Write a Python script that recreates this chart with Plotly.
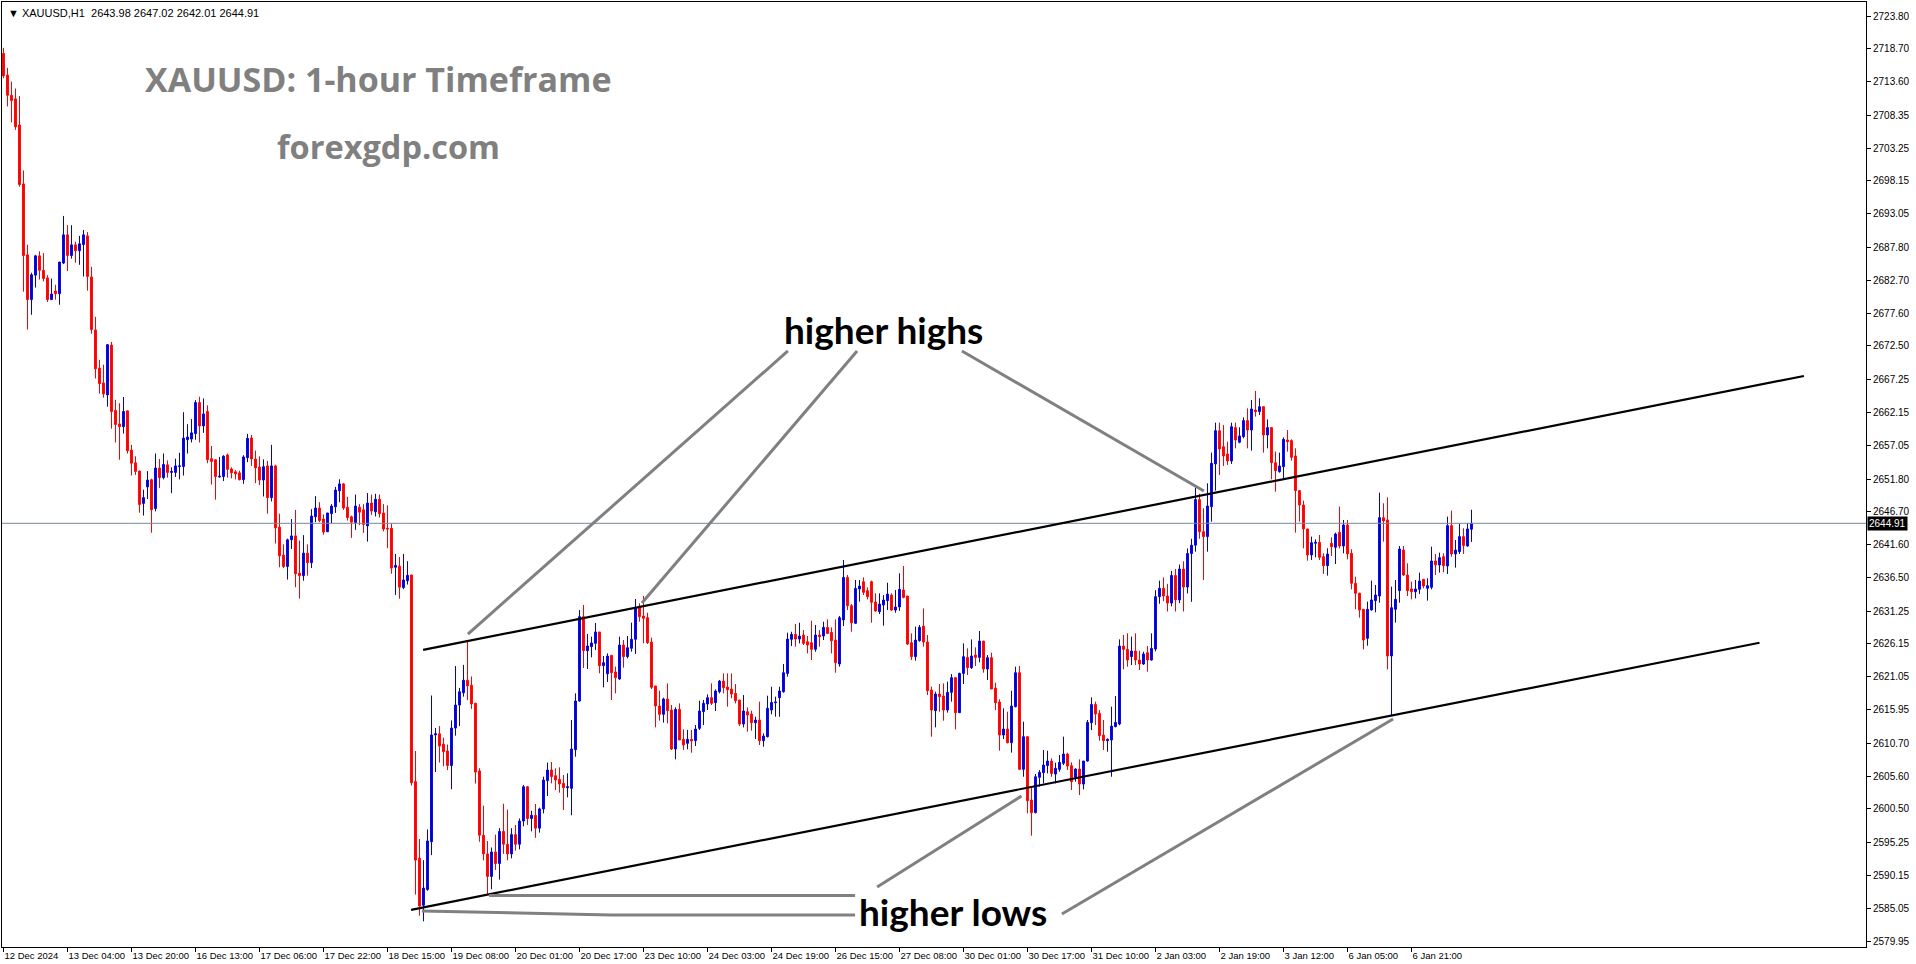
import plotly.graph_objects as go

# ---------------- data ----------------
open_ = [
    2717.99, 2714.61, 2711.46, 2710.92, 2706.85, 2697.69, 2686.66, 2679.70, 2683.50, 2686.50,
    2684.25, 2683.07, 2679.70, 2681.04, 2680.61, 2685.38, 2689.77, 2686.55, 2688.21, 2687.30,
    2688.27, 2689.61, 2683.23, 2674.99, 2669.05, 2666.74, 2664.87, 2672.63, 2662.46, 2660.37,
    2659.94, 2662.40, 2656.30, 2654.32, 2653.03, 2648.00, 2650.57, 2651.69, 2647.20, 2653.51,
    2652.01, 2654.00, 2652.82, 2652.82, 2653.73, 2653.73, 2657.91, 2658.01, 2658.87, 2663.69,
    2660.05, 2662.30, 2654.96, 2654.80, 2652.12, 2652.18, 2655.55, 2653.36, 2652.92, 2652.76,
    2651.69, 2655.12, 2658.19, 2654.91, 2653.66, 2651.64, 2653.84, 2648.90, 2653.84, 2644.32,
    2639.97, 2638.19, 2642.35, 2642.95, 2637.17, 2636.76, 2640.27, 2638.78, 2645.92, 2647.29,
    2645.57, 2643.60, 2646.40, 2647.47, 2649.97, 2651.04, 2647.41, 2645.92, 2645.03, 2647.41,
    2647.00, 2644.50, 2648.07, 2646.70, 2648.66, 2646.52, 2644.14, 2644.14, 2638.07, 2638.25,
    2634.91, 2635.98, 2636.88, 2604.74, 2592.83, 2585.51, 2587.95, 2595.39, 2612.00, 2612.18,
    2610.57, 2609.50, 2607.24, 2613.07, 2616.64, 2618.54, 2620.51, 2619.73, 2616.94, 2606.40,
    2596.40, 2593.50, 2590.00, 2593.80, 2592.00, 2597.00, 2595.00, 2593.50, 2596.50, 2595.00,
    2598.60, 2603.95, 2599.00, 2599.50, 2597.50, 2600.48, 2604.89, 2606.54, 2605.66, 2605.09,
    2604.47, 2603.80, 2603.69, 2609.71, 2617.28, 2630.39, 2625.10, 2625.73, 2626.24, 2628.01,
    2622.77, 2621.50, 2624.38, 2621.79, 2620.70, 2625.98, 2624.17, 2625.47, 2626.87, 2631.84,
    2630.49, 2630.24, 2626.45, 2619.61, 2616.50, 2615.20, 2617.59, 2615.88, 2609.81, 2615.98,
    2611.31, 2610.69, 2611.31, 2611.11, 2613.02, 2615.62, 2616.81, 2617.79, 2617.02, 2618.72,
    2620.38, 2619.45, 2619.14, 2618.46, 2617.43, 2613.69, 2615.61, 2615.25, 2613.90, 2614.32,
    2611.10, 2611.72, 2615.87, 2617.01, 2617.79, 2618.72, 2621.57, 2626.86, 2627.64, 2626.91,
    2627.54, 2626.50, 2626.34, 2625.31, 2627.54, 2627.38, 2628.73, 2627.95, 2626.76, 2623.03,
    2629.87, 2636.50, 2632.10, 2629.35, 2634.69, 2635.83, 2634.43, 2635.83, 2632.67, 2631.16,
    2632.20, 2632.88, 2633.76, 2631.42, 2631.90, 2634.53, 2633.60, 2626.34, 2624.17, 2626.65,
    2628.94, 2626.45, 2618.98, 2615.77, 2618.36, 2618.05, 2615.87, 2618.62, 2620.90, 2615.46,
    2621.57, 2624.06, 2622.46, 2624.43, 2624.06, 2626.60, 2622.25, 2624.01, 2619.29, 2617.12,
    2611.98, 2612.92, 2610.79, 2616.39, 2621.68, 2606.65, 2611.73, 2601.88, 2599.91, 2605.40,
    2606.13, 2607.22, 2607.94, 2605.92, 2606.65, 2607.58, 2609.03, 2607.22, 2605.40, 2606.70,
    2604.36, 2607.94, 2613.90, 2616.75, 2615.35, 2611.98, 2611.10, 2611.21, 2613.28, 2613.70,
    2625.83, 2625.31, 2624.17, 2625.05, 2623.65, 2623.03, 2624.79, 2623.65, 2625.36, 2633.50,
    2634.80, 2633.60, 2632.50, 2636.80, 2633.00, 2637.80, 2635.00, 2640.20, 2641.50, 2648.60,
    2643.61, 2642.84, 2647.50, 2654.14, 2659.32, 2656.83, 2655.69, 2654.60, 2659.79, 2657.51,
    2658.39, 2660.88, 2659.42, 2662.53, 2662.28, 2663.05, 2658.65, 2659.79, 2654.34, 2652.94,
    2653.72, 2657.87, 2657.77, 2655.38, 2649.99, 2647.76, 2644.03, 2639.98, 2641.80, 2641.95,
    2639.72, 2638.32, 2641.80, 2641.18, 2643.51, 2641.38, 2644.65, 2640.24, 2635.58, 2634.02,
    2631.53, 2627.02, 2631.43, 2632.88, 2633.61, 2645.79, 2645.43, 2624.28, 2631.53, 2634.44,
    2640.76, 2636.87, 2634.70, 2634.28, 2634.64, 2636.20, 2634.80, 2634.96, 2639.05, 2638.43,
    2639.72, 2638.27, 2644.55, 2640.14, 2640.50, 2642.84, 2641.38, 2643.98,
]

high = [
    2718.85, 2715.74, 2713.60, 2712.53, 2711.35, 2699.78, 2688.21, 2683.88, 2686.66, 2687.20,
    2686.93, 2683.50, 2682.97, 2682.00, 2685.54, 2692.71, 2691.27, 2691.27, 2688.70, 2689.61,
    2690.52, 2690.20, 2684.79, 2677.02, 2670.33, 2669.58, 2672.79, 2673.11, 2664.12, 2663.58,
    2664.55, 2662.40, 2657.10, 2655.33, 2653.09, 2650.14, 2653.03, 2651.85, 2655.76, 2654.91,
    2655.76, 2654.69, 2653.62, 2654.96, 2655.87, 2662.19, 2660.32, 2661.12, 2664.06, 2664.60,
    2664.33, 2663.26, 2656.94, 2654.80, 2655.23, 2655.50, 2655.76, 2653.62, 2653.19, 2653.09,
    2655.50, 2658.82, 2658.66, 2656.22, 2655.33, 2654.85, 2654.61, 2657.11, 2654.02, 2646.40,
    2641.64, 2642.53, 2645.57, 2647.00, 2642.23, 2643.07, 2641.64, 2647.11, 2649.14, 2648.19,
    2646.28, 2646.52, 2647.89, 2650.57, 2651.76, 2651.16, 2649.02, 2646.10, 2649.38, 2647.89,
    2647.89, 2649.61, 2649.38, 2649.50, 2649.38, 2647.89, 2647.71, 2644.91, 2640.15, 2639.67,
    2640.15, 2639.02, 2636.88, 2609.50, 2595.81, 2592.53, 2597.30, 2618.13, 2613.07, 2613.37,
    2611.58, 2610.51, 2614.26, 2622.71, 2619.32, 2622.89, 2626.46, 2621.10, 2616.94, 2606.82,
    2601.00, 2595.50, 2594.50, 2596.50, 2597.50, 2601.30, 2600.40, 2597.50, 2598.00, 2599.00,
    2604.20, 2604.05, 2600.20, 2601.26, 2600.69, 2605.51, 2607.69, 2607.79, 2606.80, 2606.96,
    2605.77, 2606.03, 2614.32, 2618.47, 2631.43, 2632.21, 2627.70, 2627.28, 2629.41, 2628.01,
    2624.27, 2624.69, 2624.38, 2622.62, 2627.28, 2626.76, 2627.38, 2629.46, 2633.14, 2632.46,
    2633.61, 2631.01, 2627.13, 2619.61, 2618.88, 2617.79, 2620.02, 2616.65, 2616.29, 2616.91,
    2612.87, 2612.77, 2612.77, 2613.54, 2617.33, 2617.43, 2618.31, 2620.02, 2619.09, 2620.54,
    2621.57, 2621.57, 2621.57, 2619.92, 2617.43, 2618.20, 2616.29, 2615.77, 2614.83, 2617.17,
    2612.24, 2618.10, 2619.50, 2617.95, 2619.50, 2623.03, 2627.90, 2628.05, 2629.25, 2629.45,
    2628.31, 2627.38, 2629.76, 2629.09, 2628.31, 2629.61, 2629.97, 2628.73, 2629.97, 2630.49,
    2639.20, 2636.87, 2632.36, 2636.09, 2636.09, 2636.50, 2634.95, 2635.99, 2634.02, 2634.02,
    2633.76, 2635.67, 2634.02, 2634.53, 2637.13, 2638.27, 2633.60, 2627.79, 2628.83, 2629.09,
    2631.68, 2627.54, 2619.50, 2618.72, 2619.92, 2620.02, 2620.28, 2621.47, 2620.90, 2621.68,
    2626.24, 2625.46, 2626.86, 2625.62, 2628.16, 2626.60, 2624.43, 2624.79, 2620.12, 2617.53,
    2616.13, 2615.61, 2618.88, 2622.61, 2622.72, 2614.06, 2611.73, 2603.85, 2605.92, 2606.54,
    2609.65, 2609.55, 2608.36, 2607.68, 2608.87, 2611.73, 2609.23, 2607.73, 2606.80, 2608.20,
    2607.94, 2614.32, 2617.84, 2617.17, 2615.87, 2614.32, 2611.47, 2616.39, 2618.05, 2626.86,
    2627.54, 2627.80, 2627.28, 2627.80, 2625.10, 2624.94, 2625.83, 2627.80, 2634.50, 2636.00,
    2636.50, 2635.50, 2637.50, 2637.80, 2638.50, 2639.00, 2641.00, 2642.50, 2650.50, 2649.50,
    2647.24, 2651.13, 2655.90, 2660.56, 2660.56, 2660.20, 2657.61, 2660.56, 2660.56, 2659.84,
    2661.39, 2662.79, 2664.09, 2665.49, 2664.35, 2663.05, 2661.08, 2659.79, 2656.05, 2655.90,
    2658.28, 2659.42, 2657.97, 2656.57, 2650.09, 2648.43, 2644.03, 2642.84, 2642.42, 2643.09,
    2640.24, 2641.02, 2642.73, 2643.46, 2647.50, 2645.43, 2645.43, 2640.87, 2636.61, 2634.13,
    2631.53, 2632.73, 2635.99, 2635.32, 2649.68, 2648.02, 2648.95, 2635.06, 2636.10, 2641.38,
    2641.38, 2638.69, 2635.84, 2636.10, 2637.24, 2636.20, 2636.36, 2641.28, 2640.14, 2640.35,
    2640.24, 2645.95, 2646.88, 2642.32, 2644.91, 2644.13, 2644.91, 2647.02,
]

low = [
    2714.13, 2709.74, 2707.28, 2706.10, 2697.26, 2680.93, 2675.04, 2677.34, 2681.57, 2682.81,
    2682.54, 2679.33, 2679.70, 2679.70, 2678.90, 2685.22, 2684.14, 2686.07, 2685.43, 2685.11,
    2683.29, 2681.09, 2674.40, 2667.44, 2665.08, 2664.44, 2663.05, 2659.62, 2657.48, 2654.80,
    2658.87, 2655.76, 2652.34, 2652.44, 2646.55, 2646.12, 2648.69, 2643.45, 2646.77, 2650.41,
    2651.74, 2652.01, 2649.60, 2652.12, 2651.74, 2652.34, 2655.76, 2657.48, 2657.91, 2657.48,
    2658.98, 2654.26, 2650.94, 2648.59, 2652.01, 2651.48, 2652.01, 2651.90, 2651.74, 2651.59,
    2651.05, 2654.42, 2653.84, 2651.16, 2650.86, 2649.08, 2646.40, 2648.31, 2641.76, 2638.07,
    2637.95, 2636.16, 2640.92, 2634.97, 2633.19, 2635.98, 2636.76, 2637.95, 2645.09, 2645.09,
    2643.13, 2643.54, 2644.91, 2646.52, 2648.19, 2647.00, 2645.33, 2642.65, 2643.90, 2644.61,
    2643.42, 2642.06, 2646.22, 2645.98, 2645.81, 2643.66, 2641.04, 2637.06, 2633.78, 2633.19,
    2634.67, 2635.39, 2604.14, 2587.18, 2583.90, 2583.01, 2587.77, 2593.31, 2606.22, 2607.71,
    2607.12, 2606.52, 2603.55, 2611.88, 2613.37, 2617.95, 2617.41, 2616.05, 2604.44, 2595.39,
    2592.50, 2587.20, 2588.00, 2591.00, 2589.50, 2593.50, 2592.50, 2592.80, 2594.00, 2594.20,
    2597.80, 2598.00, 2597.00, 2596.00, 2596.80, 2599.80, 2602.50, 2604.47, 2603.43, 2603.02,
    2600.32, 2602.29, 2599.50, 2608.62, 2617.17, 2622.41, 2622.25, 2624.07, 2625.21, 2621.58,
    2619.40, 2620.23, 2617.43, 2618.47, 2620.54, 2622.46, 2623.91, 2624.95, 2624.59, 2629.61,
    2626.24, 2626.14, 2619.14, 2613.18, 2614.22, 2613.91, 2613.80, 2609.66, 2608.20, 2611.21,
    2609.66, 2609.76, 2609.24, 2610.28, 2612.77, 2613.54, 2615.88, 2616.65, 2615.72, 2618.46,
    2618.46, 2616.39, 2617.69, 2616.91, 2613.38, 2613.18, 2612.50, 2612.66, 2611.36, 2610.43,
    2610.17, 2611.61, 2615.20, 2614.83, 2614.83, 2618.57, 2621.06, 2625.82, 2625.72, 2626.24,
    2625.98, 2624.68, 2623.65, 2624.94, 2625.72, 2626.76, 2627.69, 2624.68, 2621.68, 2622.61,
    2628.94, 2631.42, 2628.05, 2629.35, 2632.72, 2633.76, 2633.08, 2629.45, 2631.16, 2630.80,
    2628.99, 2631.42, 2631.32, 2631.00, 2631.30, 2633.24, 2625.98, 2623.65, 2623.54, 2626.50,
    2625.72, 2618.20, 2611.72, 2613.18, 2615.61, 2614.21, 2615.46, 2617.17, 2612.86, 2615.40,
    2619.92, 2621.32, 2622.25, 2622.72, 2623.29, 2621.68, 2620.54, 2619.14, 2615.87, 2609.55,
    2611.36, 2610.69, 2609.24, 2616.29, 2606.54, 2605.50, 2599.80, 2596.33, 2599.80, 2603.95,
    2604.47, 2606.02, 2605.50, 2604.47, 2606.28, 2607.32, 2606.54, 2603.43, 2604.73, 2602.65,
    2603.53, 2607.84, 2612.76, 2613.54, 2611.10, 2609.65, 2609.39, 2605.50, 2613.20, 2613.50,
    2622.20, 2622.61, 2622.87, 2622.87, 2622.09, 2622.90, 2621.83, 2623.55, 2625.00, 2632.40,
    2632.80, 2631.20, 2632.00, 2631.20, 2632.50, 2631.20, 2634.00, 2632.70, 2640.50, 2642.50,
    2636.10, 2640.50, 2645.17, 2649.99, 2652.43, 2653.83, 2653.98, 2654.14, 2656.57, 2657.35,
    2658.13, 2656.57, 2656.21, 2661.50, 2661.76, 2655.90, 2656.57, 2651.75, 2649.83, 2652.79,
    2651.91, 2656.05, 2654.65, 2643.46, 2645.17, 2641.02, 2639.10, 2639.21, 2639.62, 2639.21,
    2637.03, 2636.77, 2639.83, 2638.58, 2641.02, 2640.24, 2639.31, 2634.64, 2631.53, 2630.24,
    2625.31, 2625.88, 2631.33, 2631.07, 2632.57, 2642.06, 2622.20, 2615.10, 2629.46, 2632.57,
    2636.72, 2633.61, 2633.09, 2633.24, 2633.92, 2634.80, 2632.88, 2634.64, 2636.87, 2637.24,
    2637.29, 2637.03, 2639.72, 2638.01, 2640.14, 2640.14, 2641.28, 2642.01,
]

close = [
    2714.51, 2711.46, 2710.65, 2706.58, 2697.59, 2686.55, 2679.70, 2683.56, 2686.50, 2684.25,
    2682.97, 2679.70, 2680.56, 2680.61, 2685.54, 2689.77, 2686.55, 2688.21, 2687.30, 2688.38,
    2689.77, 2683.29, 2675.04, 2668.94, 2666.63, 2665.03, 2672.69, 2662.30, 2660.26, 2659.94,
    2662.30, 2656.19, 2654.26, 2652.98, 2647.84, 2648.91, 2651.64, 2647.03, 2653.51, 2652.01,
    2654.05, 2652.82, 2652.98, 2653.84, 2653.84, 2658.17, 2658.33, 2658.98, 2663.69, 2660.05,
    2661.92, 2654.80, 2654.53, 2652.18, 2652.23, 2655.34, 2653.30, 2652.76, 2652.60, 2651.69,
    2655.23, 2658.12, 2654.91, 2653.54, 2651.64, 2653.72, 2648.90, 2653.84, 2644.20, 2639.85,
    2638.19, 2642.35, 2642.95, 2637.06, 2636.76, 2640.27, 2638.78, 2646.04, 2647.29, 2645.33,
    2643.54, 2646.52, 2647.59, 2650.09, 2651.04, 2647.29, 2645.81, 2645.09, 2647.59, 2646.64,
    2644.73, 2648.07, 2646.82, 2648.66, 2646.40, 2644.02, 2644.02, 2637.95, 2638.37, 2634.97,
    2636.10, 2636.82, 2604.56, 2592.53, 2585.39, 2588.19, 2595.51, 2612.00, 2612.18, 2610.27,
    2609.38, 2607.24, 2613.07, 2616.64, 2618.72, 2620.51, 2619.62, 2616.82, 2606.22, 2596.40,
    2593.50, 2590.00, 2593.80, 2592.00, 2597.00, 2595.00, 2593.50, 2596.50, 2595.00, 2598.60,
    2603.95, 2599.00, 2599.50, 2597.50, 2600.50, 2604.99, 2606.54, 2605.51, 2604.99, 2604.37,
    2603.80, 2603.95, 2609.81, 2617.28, 2630.39, 2625.10, 2625.83, 2626.30, 2628.01, 2622.77,
    2623.24, 2624.27, 2621.68, 2620.90, 2625.98, 2624.17, 2625.57, 2626.87, 2631.84, 2630.39,
    2630.13, 2626.35, 2619.40, 2616.50, 2615.20, 2617.59, 2615.77, 2609.81, 2615.98, 2611.21,
    2610.43, 2611.31, 2611.05, 2612.92, 2615.72, 2616.91, 2617.79, 2616.91, 2618.83, 2620.38,
    2619.34, 2619.03, 2618.36, 2617.32, 2613.69, 2615.72, 2615.09, 2613.90, 2614.32, 2611.10,
    2611.83, 2616.13, 2617.06, 2617.12, 2618.83, 2621.68, 2626.91, 2627.64, 2626.91, 2627.38,
    2626.24, 2625.98, 2625.31, 2627.54, 2627.28, 2628.73, 2627.79, 2626.65, 2623.23, 2630.23,
    2636.50, 2632.10, 2629.45, 2634.79, 2635.16, 2634.17, 2633.50, 2632.62, 2631.27, 2632.36,
    2632.98, 2633.91, 2631.42, 2631.90, 2634.64, 2633.39, 2626.14, 2624.17, 2626.76, 2628.73,
    2626.45, 2618.88, 2615.87, 2618.36, 2617.95, 2615.87, 2618.62, 2620.90, 2615.46, 2621.57,
    2624.17, 2622.46, 2624.27, 2624.06, 2626.60, 2622.25, 2624.01, 2619.14, 2617.01, 2611.98,
    2612.92, 2610.79, 2616.49, 2621.68, 2606.65, 2611.73, 2601.77, 2599.91, 2605.50, 2606.18,
    2607.32, 2607.94, 2606.02, 2606.80, 2607.73, 2609.03, 2607.16, 2604.73, 2606.70, 2604.36,
    2607.94, 2613.95, 2616.75, 2615.25, 2611.88, 2611.10, 2611.31, 2613.38, 2613.95, 2625.83,
    2625.31, 2623.65, 2625.05, 2623.65, 2623.03, 2624.58, 2623.65, 2625.46, 2633.50, 2634.80,
    2633.60, 2632.50, 2636.80, 2633.00, 2637.80, 2635.00, 2640.20, 2641.50, 2648.60, 2643.60,
    2642.84, 2647.60, 2654.24, 2659.32, 2656.47, 2655.38, 2654.60, 2659.94, 2657.87, 2658.49,
    2660.88, 2659.42, 2662.69, 2662.28, 2663.05, 2658.65, 2659.79, 2654.34, 2653.10, 2653.83,
    2657.97, 2657.61, 2655.17, 2649.99, 2647.76, 2644.03, 2639.98, 2641.90, 2641.95, 2639.62,
    2638.32, 2640.14, 2641.28, 2643.25, 2641.38, 2644.65, 2640.14, 2635.58, 2634.02, 2631.43,
    2626.76, 2631.53, 2632.99, 2633.76, 2645.79, 2645.27, 2624.28, 2631.79, 2633.09, 2640.92,
    2636.87, 2634.44, 2634.28, 2634.70, 2635.94, 2635.16, 2635.21, 2639.05, 2638.43, 2639.57,
    2638.32, 2644.55, 2640.14, 2640.76, 2642.84, 2641.44, 2644.03, 2644.91,
]

bar_index = list(range(len(close)))

time_tick_bars = list(range(0, 353, 16))
time_tick_text = [
    "12 Dec 2024", "13 Dec 04:00", "13 Dec 20:00", "16 Dec 13:00", "17 Dec 06:00",
    "17 Dec 22:00", "18 Dec 15:00", "19 Dec 08:00", "20 Dec 01:00", "20 Dec 17:00",
    "23 Dec 10:00", "24 Dec 03:00", "24 Dec 19:00", "26 Dec 15:00", "27 Dec 08:00",
    "30 Dec 01:00", "30 Dec 17:00", "31 Dec 10:00", "2 Jan 03:00", "2 Jan 19:00",
    "3 Jan 12:00", "6 Jan 05:00", "6 Jan 21:00",
]

price_ticks = [
    2723.80, 2718.70, 2713.60, 2708.35, 2703.25, 2698.15, 2693.05, 2687.80, 2682.70,
    2677.60, 2672.50, 2667.25, 2662.15, 2657.05, 2651.80, 2646.70, 2641.60, 2636.50,
    2631.25, 2626.15, 2621.05, 2615.95, 2610.70, 2605.60, 2600.50, 2595.25, 2590.15,
    2585.05, 2579.95,
]

last_price = 2644.91
header_text = "\u25bc XAUUSD,H1  2643.98 2647.02 2642.01 2644.91"

# drawn channel lines (bar index, price)
upper_line_x = [104.9, 450.1]
upper_line_y = [2625.23, 2667.82]
lower_line_x = [101.9, 439.0]
lower_line_y = [2584.80, 2626.34]

# grey pointer lines (bar index, price)
hh_lines = [
    ([116.1, 196.1], [2627.69, 2671.71]),
    ([159.6, 213.4], [2632.52, 2671.71]),
    ([239.6, 300.1], [2671.71, 2649.94]),
]
hl_lines = [
    ([104.6, 151.9, 212.9], [2584.62, 2584.00, 2584.00]),
    ([121.4, 212.9], [2587.01, 2587.01]),
    ([218.4, 254.5], [2588.35, 2602.50]),
    ([264.6, 347.4], [2584.15, 2614.48]),
]

hh_label = ("higher highs", 219.9, 2674.98)
hl_label = ("higher lows", 237.4, 2584.47)

# ---------------- figure ----------------
X_MIN, X_MAX = -0.375, 465.625
Y_MIN, Y_MAX = 2579.02, 2725.98

hi = [max(h, o, c) for h, o, c in zip(high, open_, close)]
lo = [min(l, o, c) for l, o, c in zip(low, open_, close)]

fig = go.Figure()

fig.add_trace(go.Scatter(
    x=[X_MIN, X_MAX], y=[last_price, last_price], mode="lines",
    line=dict(color="#778899", width=1), hoverinfo="skip"))

fig.add_trace(go.Candlestick(
    x=bar_index, open=open_, high=hi, low=lo, close=close,
    increasing=dict(line=dict(color="#0000D8", width=1), fillcolor="#0000D8"),
    decreasing=dict(line=dict(color="#FF0000", width=1), fillcolor="#FF0000"),
    whiskerwidth=0, hoverinfo="skip"))

for xs, ys in [(upper_line_x, upper_line_y), (lower_line_x, lower_line_y)]:
    fig.add_trace(go.Scatter(x=xs, y=ys, mode="lines",
                             line=dict(color="black", width=2.2), hoverinfo="skip"))

for xs, ys in hh_lines + hl_lines:
    fig.add_trace(go.Scatter(x=xs, y=ys, mode="lines",
                             line=dict(color="#808080", width=3), hoverinfo="skip"))

for text, x, y in [hh_label, hl_label]:
    fig.add_annotation(x=x, y=y, xref="x", yref="y", text="<b>" + text + "</b>",
                       xanchor="center", yanchor="middle",
                       showarrow=False, font=dict(family="Lato", size=37, color="black"))

fig.add_annotation(x=0.2022, y=0.9185, xref="paper", yref="paper",
                   xanchor="center", yanchor="middle",
                   text="<b>XAUUSD: 1-hour Timeframe</b>", showarrow=False,
                   font=dict(family="Open Sans", size=34, color="#808080"))
fig.add_annotation(x=0.2071, y=0.8466, xref="paper", yref="paper",
                   xanchor="center", yanchor="middle",
                   text="<b>forexgdp.com</b>", showarrow=False,
                   font=dict(family="Open Sans", size=32.5, color="#808080"))

fig.add_annotation(x=0, y=1, xref="paper", yref="paper", xanchor="left", yanchor="top",
                   xshift=4, yshift=-3, text=header_text, showarrow=False,
                   font=dict(family="Liberation Sans", size=11, color="black"))

fig.add_annotation(x=1, y=last_price, xref="paper", yref="y", xanchor="left",
                   xshift=1, text=f"{last_price:.2f}", showarrow=False,
                   bgcolor="black", borderpad=1,
                   font=dict(family="Liberation Sans", size=10, color="white"))

x_font = dict(family="Liberation Sans", size=9.5, color="black")
y_font = dict(family="Liberation Sans", size=10, color="black")

fig.update_layout(
    width=1916, height=964,
    margin=dict(l=2, r=50, t=2, b=17),
    paper_bgcolor="white", plot_bgcolor="white",
    showlegend=False, boxgap=0.35, hovermode=False,
    xaxis=dict(range=[X_MIN, X_MAX], tickmode="array", tickvals=time_tick_bars,
               ticktext=time_tick_text, ticks="outside", ticklen=4, tickcolor="black",
               ticklabelposition="outside right", tickangle=0, tickfont=x_font,
               automargin=False,
               showgrid=False, zeroline=False, showline=True, mirror=True,
               linecolor="black", linewidth=1, rangeslider=dict(visible=False)),
    yaxis=dict(range=[Y_MIN, Y_MAX], side="right", tickmode="array", tickvals=price_ticks,
               ticktext=[f"{v:.2f}" for v in price_ticks], ticks="outside", ticklen=4,
               tickcolor="black", tickfont=y_font, showgrid=False, zeroline=False,
               automargin=False,
               showline=True, mirror=True, linecolor="black", linewidth=1),
)

fig.write_html(
    "out.html",
    config={"displayModeBar": False, "staticPlot": True},
    post_script="document.body.style.margin='0';document.body.style.overflow='hidden';",
)
